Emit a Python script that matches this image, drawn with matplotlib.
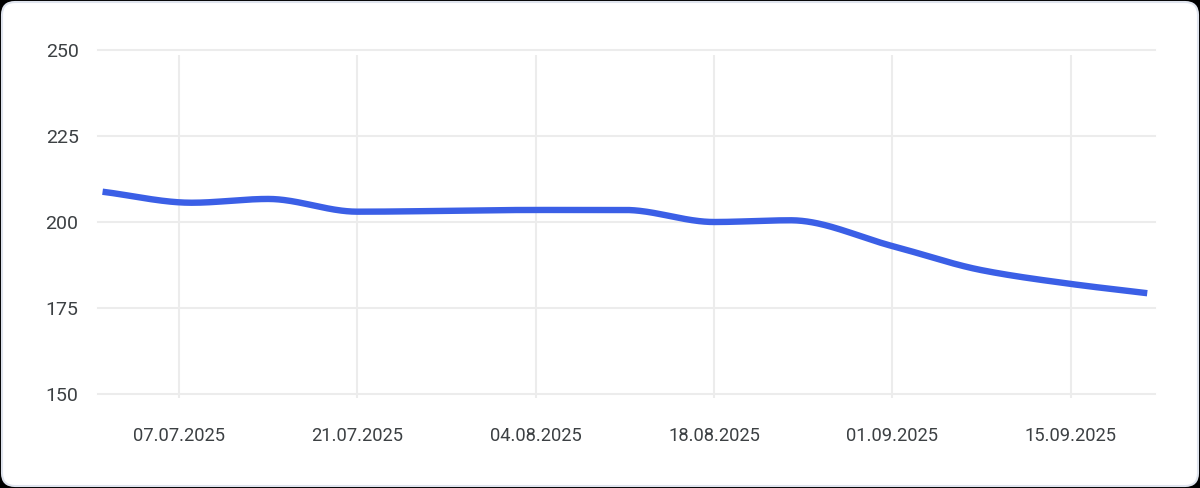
import numpy as np
import matplotlib
matplotlib.use("Agg")
import matplotlib.pyplot as plt
import matplotlib.dates as mdates
import matplotlib.transforms as mtransforms
from matplotlib.patches import FancyBboxPatch
import datetime as dt

# ---- data ----
dates = ["2025-07-01", "2025-07-08", "2025-07-14", "2025-07-21", "2025-08-04",
         "2025-08-11", "2025-08-18", "2025-08-24", "2025-09-01", "2025-09-08",
         "2025-09-15", "2025-09-21"]
values = [208.8, 205.6, 206.7, 203.0, 203.5, 203.5, 200.0, 200.5, 193.0, 186.0,
          182.0, 179.3]
tick_dates = ["2025-07-07", "2025-07-21", "2025-08-04", "2025-08-18",
              "2025-09-01", "2025-09-15"]
tick_labels = ["07.07.2025", "21.07.2025", "04.08.2025", "18.08.2025",
               "01.09.2025", "15.09.2025"]
y_ticks = [150, 175, 200, 225, 250]

plt.rcParams['font.family'] = ['Roboto', 'DejaVu Sans']


def pchip(x, y, xn):
    x = np.asarray(x, float); y = np.asarray(y, float)
    h = np.diff(x); d = np.diff(y) / h
    n = len(x)
    m = np.zeros(n)
    for k in range(1, n - 1):
        if d[k - 1] * d[k] > 0:
            w1 = 2 * h[k] + h[k - 1]; w2 = h[k] + 2 * h[k - 1]
            m[k] = (w1 + w2) / (w1 / d[k - 1] + w2 / d[k])
    m[0] = d[0]; m[-1] = d[-1]
    idx = np.clip(np.searchsorted(x, xn) - 1, 0, n - 2)
    t = (xn - x[idx]) / h[idx]
    h00 = 2 * t**3 - 3 * t**2 + 1; h10 = t**3 - 2 * t**2 + t
    h01 = -2 * t**3 + 3 * t**2; h11 = t**3 - t**2
    return (h00 * y[idx] + h10 * h[idx] * m[idx] + h01 * y[idx + 1]
            + h11 * h[idx] * m[idx + 1])


W, H = 1200, 488
fig = plt.figure(figsize=(W / 100, H / 100), dpi=100)
fig.patch.set_facecolor("black")

card = FancyBboxPatch((0.02, 0.02), W / 100 - 0.04, H / 100 - 0.04,
                      boxstyle="round,pad=0,rounding_size=0.13",
                      transform=fig.dpi_scale_trans,
                      facecolor="white", edgecolor="#dfe4ee", linewidth=1.5,
                      zorder=-10)
fig.add_artist(card)

ax = fig.add_axes([98 / W, 1 - 394 / H, (1155 - 98) / W, (394 - 50) / H])
ax.set_facecolor("none")
ax.set_zorder(1)

xd = mdates.date2num([dt.date.fromisoformat(s) for s in dates])
xt = mdates.date2num([dt.date.fromisoformat(s) for s in tick_dates])
xs = np.linspace(xd[0], xd[-1], 600)
ys = pchip(xd, values, xs)

grid_c = "#ececec"
for yv in y_ticks:
    ax.axhline(yv, color=grid_c, lw=1.5, zorder=1, clip_on=False)
trans = mtransforms.blended_transform_factory(ax.transData, ax.transAxes)
ax.vlines(xt, -4 / 344, 1 - 5 / 344, transform=trans, color=grid_c, lw=1.5,
          zorder=1, clip_on=False)

ax.plot(xs, ys, color="#3b5fe6", lw=4.6, solid_capstyle="butt", zorder=3)

x0 = xt[0] - 81 / 12.74
x1 = xt[0] + (1155 - 179) / 12.74
ax.set_xlim(x0, x1)
ax.set_ylim(150, 250)

ax.set_yticks(y_ticks)
ax.set_yticklabels([str(v) for v in y_ticks])
ax.set_xticks(xt)
ax.set_xticklabels(tick_labels)
ax.tick_params(axis="both", length=0, colors="#3c4043")
ax.tick_params(axis="y", pad=14, labelsize=14)
ax.tick_params(axis="x", pad=24, labelsize=13.2)
for s in ax.spines.values():
    s.set_visible(False)

fig.savefig("out.png", dpi=100, facecolor=fig.get_facecolor())
